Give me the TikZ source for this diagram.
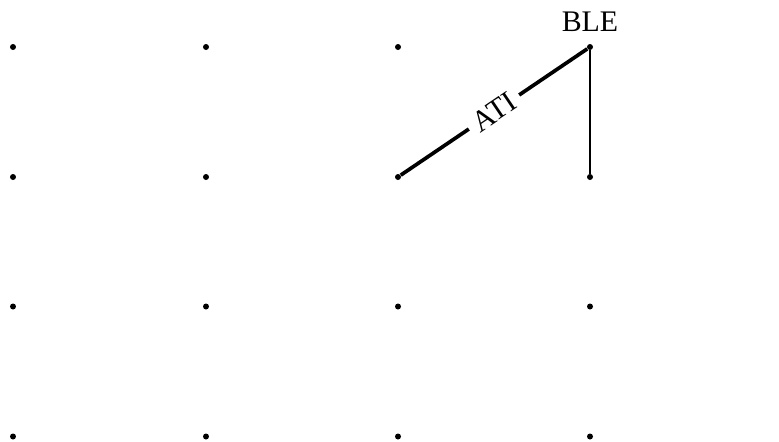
\documentclass[tikz,border=0pt]{standalone}
\usepackage{fontspec}
\setmainfont{Liberation Serif}
\usepackage{tikz}
\usetikzlibrary{positioning}

\begin{document}
\begin{tikzpicture}[dot/.style={circle,fill=black,inner sep=0pt,minimum size=0.12cm},
  edge/.style={line width=2.1pt},
  lbl/.style={font=\fontsize{17}{19}\selectfont,inner sep=1pt}]
\useasboundingbox (0,0) rectangle (15.58,8.82);
\foreach \c/\x in {1/0.26,2/4.12,3/7.96,4/11.8}
  \foreach \r/\y in {1/7.88,2/5.28,3/2.69,4/0.09}
    \node[dot] (p\r\c) at (\x,\y) {};
\node[lbl,above=0.2cm of p14] (ble) {BLE};
\draw[edge] (p23) -- node[lbl,sloped,fill=white,inner sep=4pt] (ati) {ATI} (p14);
\draw[edge,line width=1.6pt] (p14) -- (p24);
\end{tikzpicture}
\end{document}
